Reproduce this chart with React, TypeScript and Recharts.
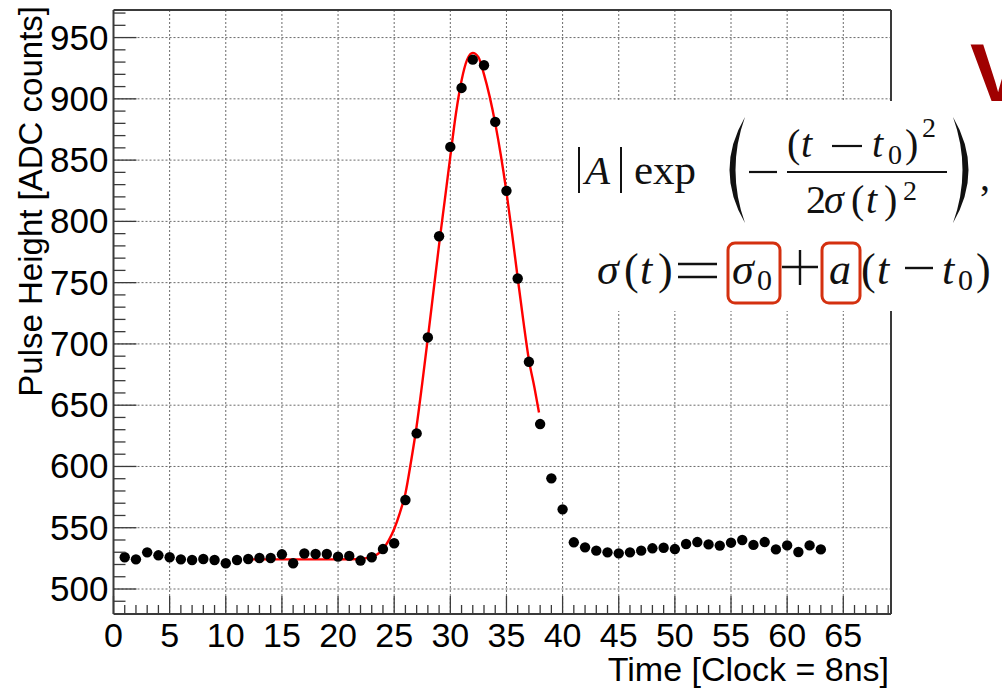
import React from 'react';
import { ComposedChart, Scatter, Line, XAxis, YAxis, CartesianGrid } from 'recharts';

const sampleTimes = [
  1, 2, 3, 4, 5, 6, 7, 8, 9, 10, 11, 12, 13, 14, 15, 16, 17, 18, 19, 20, 21,
  22, 23, 24, 25, 26, 27, 28, 29, 30, 31, 32, 33, 34, 35, 36, 37, 38, 39, 40,
  41, 42, 43, 44, 45, 46, 47, 48, 49, 50, 51, 52, 53, 54, 55, 56, 57, 58, 59,
  60, 61, 62, 63,
];
const pulseHeights = [
  525.9, 524.2, 529.9, 527.5, 525.9, 524.2, 523.7, 524.5, 523.7, 521.0,
  523.7, 524.5, 525.3, 525.3, 528.3, 521.0, 529.0, 528.6, 528.6, 526.4,
  527.0, 523.2, 525.9, 532.6, 537.3, 572.6, 627.0, 705.3, 787.9, 860.8,
  908.9, 932.0, 927.4, 881.2, 824.9, 753.4, 685.4, 634.6, 590.3, 565.0,
  538.1, 534.0, 531.3, 529.9, 529.1, 529.9, 531.3, 533.2, 533.7, 532.6,
  536.7, 538.3, 536.4, 535.4, 537.8, 540.0, 536.0, 538.3, 532.3, 535.6,
  530.2, 535.6, 532.3,
];
const fitTimes = [
  12.2, 14, 16, 18, 20, 21, 22, 22.5, 23, 23.5, 24, 24.5, 25, 25.5, 26, 26.5,
  27, 27.5, 28, 28.5, 29, 29.5, 30, 30.5, 31, 31.5, 32, 32.5, 33, 33.5, 34,
  34.5, 35, 35.5, 36, 36.5, 37, 37.5, 37.9,
];
const fitHeights = [
  524.2, 524.2, 524.2, 524.2, 524.2, 524.3, 524.6, 525.2, 526.2, 528.3, 532.5,
  539.5, 549, 562, 578, 604, 633, 668, 705, 743, 781, 817, 853, 888, 915, 932,
  937.5, 934, 920, 902, 880, 854, 824, 790, 754, 719, 687, 664, 644,
];
const xMajorTicks = [0, 5, 10, 15, 20, 25, 30, 35, 40, 45, 50, 55, 60, 65];
const xAllTicks = [
  0, 1, 2, 3, 4, 5, 6, 7, 8, 9, 10, 11, 12, 13, 14, 15, 16, 17, 18, 19, 20,
  21, 22, 23, 24, 25, 26, 27, 28, 29, 30, 31, 32, 33, 34, 35, 36, 37, 38, 39,
  40, 41, 42, 43, 44, 45, 46, 47, 48, 49, 50, 51, 52, 53, 54, 55, 56, 57, 58,
  59, 60, 61, 62, 63, 64, 65, 66, 67, 68, 69,
];
const yMajorTicks = [500, 550, 600, 650, 700, 750, 800, 850, 900, 950];
const yAllTicks = [
  490, 500, 510, 520, 530, 540, 550, 560, 570, 580, 590, 600, 610, 620, 630,
  640, 650, 660, 670, 680, 690, 700, 710, 720, 730, 740, 750, 760, 770, 780,
  790, 800, 810, 820, 830, 840, 850, 860, 870, 880, 890, 900, 910, 920, 930,
  940, 950, 960, 970,
];
const xDomain = [0, 69.25];
const yDomain = [479.6, 972.5];
const xTitle = 'Time [Clock = 8ns]';
const yTitle = 'Pulse Height [ADC counts]';

const pulseData = sampleTimes.map((t, i) => ({ t, h: pulseHeights[i] }));
const fitData = fitTimes.map((t, i) => ({ t, h: fitHeights[i] }));

const FONT = '"Liberation Sans", Arial, Helvetica, sans-serif';
const SERIF = '"Liberation Serif", "Times New Roman", serif';
const AXIS = '#3a3a3a';

function XTick(props: any) {
  const { x, y, payload } = props;
  const major = xMajorTicks.includes(payload.value);
  return (
    <g>
      <line x1={x} x2={x} y1={y} y2={y - (major ? 18 : 9)} stroke={AXIS} strokeWidth={1.3} />
      {major ? (
        <text x={x} y={y + 33} textAnchor="middle" fontSize={34} fontFamily={FONT} fill="#000">
          {payload.value}
        </text>
      ) : null}
    </g>
  );
}
function YTick(props: any) {
  const { x, y, payload } = props;
  const major = yMajorTicks.includes(payload.value);
  return (
    <g>
      <line x1={x} x2={x + (major ? 23 : 12)} y1={y} y2={y} stroke={AXIS} strokeWidth={1.3} />
      {major ? (
        <text x={x - 5} y={y + 12} textAnchor="end" fontSize={35} fontFamily={FONT} fill="#000">
          {payload.value}
        </text>
      ) : null}
    </g>
  );
}

const Dot = (props: any) => <circle cx={props.cx} cy={props.cy} r={5.2} fill="#000" />;

export default function App() {
  const red = '#d4300f';
  return (
    <div style={{ position: 'absolute', left: 0, top: 0, width: 1002, height: 688, overflow: 'hidden', background: '#fff' }}>
      <ComposedChart
        width={1002}
        height={688}
        margin={{ top: 9, right: 110, bottom: 73, left: 112.5 }}
      >
        <CartesianGrid
          stroke="#6a6a6a"
          strokeDasharray="2 2"
          strokeWidth={1}
          verticalValues={xMajorTicks}
          horizontalValues={yMajorTicks}
        />
        <XAxis
          dataKey="t"
          type="number"
          domain={xDomain}
          allowDataOverflow
          ticks={xAllTicks}
          interval={0}
          height={1}
          tickSize={0}
          tickMargin={0}
          tickLine={false}
          tick={<XTick />}
          axisLine={{ stroke: AXIS, strokeWidth: 2 }}
        />
        <XAxis
          xAxisId="top"
          orientation="top"
          type="number"
          domain={xDomain}
          allowDataOverflow
          height={1}
          tick={false}
          tickLine={false}
          axisLine={{ stroke: AXIS, strokeWidth: 2 }}
        />
        <YAxis
          dataKey="h"
          type="number"
          domain={yDomain}
          allowDataOverflow
          ticks={yAllTicks}
          interval={0}
          width={1}
          tickSize={0}
          tickMargin={0}
          tickLine={false}
          tick={<YTick />}
          axisLine={{ stroke: AXIS, strokeWidth: 2 }}
        />
        <YAxis
          yAxisId="right"
          orientation="right"
          type="number"
          domain={yDomain}
          allowDataOverflow
          width={1}
          tick={false}
          tickLine={false}
          axisLine={{ stroke: AXIS, strokeWidth: 2 }}
        />
        <Scatter data={pulseData} dataKey="h" shape={Dot} isAnimationActive={false} />
        <Line
          data={fitData}
          dataKey="h"
          type="monotone"
          stroke="#ff0000"
          strokeWidth={2.4}
          dot={false}
          activeDot={false}
          isAnimationActive={false}
        />
      </ComposedChart>

      <svg
        width={1002}
        height={688}
        style={{ position: 'absolute', left: 0, top: 0, pointerEvents: 'none' }}
      >
        <text x={889} y={681} textAnchor="end" fontSize={34} fontFamily={FONT} fill="#000">
          {xTitle}
        </text>
        <text
          transform="translate(42,6) rotate(-90)"
          textAnchor="end"
          fontSize={33}
          fontFamily={FONT}
          fill="#000"
        >
          {yTitle}
        </text>

        {/* slide title fragment */}
        <text x={970} y={102} fontSize={84} fontWeight="bold" fontFamily={FONT} fill="#a00000">
          V
        </text>

        {/* formula panel */}
        <rect x={565} y={101} width={437} height={210} fill="#fff" />
        <g fontFamily={SERIF} fill="#111">
          <line x1={579} x2={579} y1={147} y2={193} stroke="#111" strokeWidth={2} />
          <text x={585} y={184} fontSize={41} fontStyle="italic">A</text>
          <line x1={621} x2={621} y1={147} y2={193} stroke="#111" strokeWidth={2} />
          <text x={634} y={184} fontSize={43}>exp</text>
          <path d="M745 117 Q714 170 745 223 Q726 170 745 117 Z" fill="#111" />
          <line x1={749} x2={777} y1={172} y2={172} stroke="#111" strokeWidth={2.2} />
          <text x={787} y={157} fontSize={40}>(</text>
          <text x={801} y={157} fontSize={40} fontStyle="italic">t</text>
          <line x1={832} x2={862} y1={146} y2={146} stroke="#111" strokeWidth={2.2} />
          <text x={872} y={157} fontSize={40} fontStyle="italic">t</text>
          <text x={888} y={164} fontSize={28}>0</text>
          <text x={905} y={157} fontSize={40}>)</text>
          <text x={922} y={137} fontSize={28}>2</text>
          <line x1={787} x2={947} y1={172} y2={172} stroke="#111" strokeWidth={2} />
          <text x={806} y={213} fontSize={40}>2</text>
          <text x={824} y={213} fontSize={40} fontStyle="italic">σ</text>
          <text x={851} y={213} fontSize={40}>(</text>
          <text x={866} y={213} fontSize={40} fontStyle="italic">t</text>
          <text x={884} y={213} fontSize={40}>)</text>
          <text x={903} y={200} fontSize={28}>2</text>
          <path d="M953 117 Q984 170 953 223 Q972 170 953 117 Z" fill="#111" />
          <text x={980} y={190} fontSize={40}>,</text>

          <text x={597} y={284} fontSize={44} fontStyle="italic">σ</text>
          <text x={624} y={284} fontSize={44}>(</text>
          <text x={640} y={284} fontSize={44} fontStyle="italic">t</text>
          <text x={658} y={284} fontSize={44}>)</text>
          <line x1={678} x2={717} y1={264} y2={264} stroke="#111" strokeWidth={2.4} />
          <line x1={678} x2={717} y1={277} y2={277} stroke="#111" strokeWidth={2.4} />
          <rect x={728} y={243} width={52} height={60} rx={7} fill="none" stroke={red} strokeWidth={3} />
          <text x={732} y={284} fontSize={44} fontStyle="italic">σ</text>
          <text x={757} y={290} fontSize={30}>0</text>
          <line x1={782} x2={818} y1={267} y2={267} stroke="#111" strokeWidth={2.4} />
          <line x1={800} x2={800} y1={250} y2={285} stroke="#111" strokeWidth={2.4} />
          <rect x={822} y={243} width={38} height={60} rx={7} fill="none" stroke={red} strokeWidth={3} />
          <text x={829} y={284} fontSize={44} fontStyle="italic">a</text>
          <text x={861} y={284} fontSize={44}>(</text>
          <text x={877} y={284} fontSize={44} fontStyle="italic">t</text>
          <line x1={905} x2={933} y1={268} y2={268} stroke="#111" strokeWidth={2.4} />
          <text x={942} y={284} fontSize={44} fontStyle="italic">t</text>
          <text x={958} y={290} fontSize={30}>0</text>
          <text x={976} y={284} fontSize={44}>)</text>
        </g>
      </svg>
    </div>
  );
}
